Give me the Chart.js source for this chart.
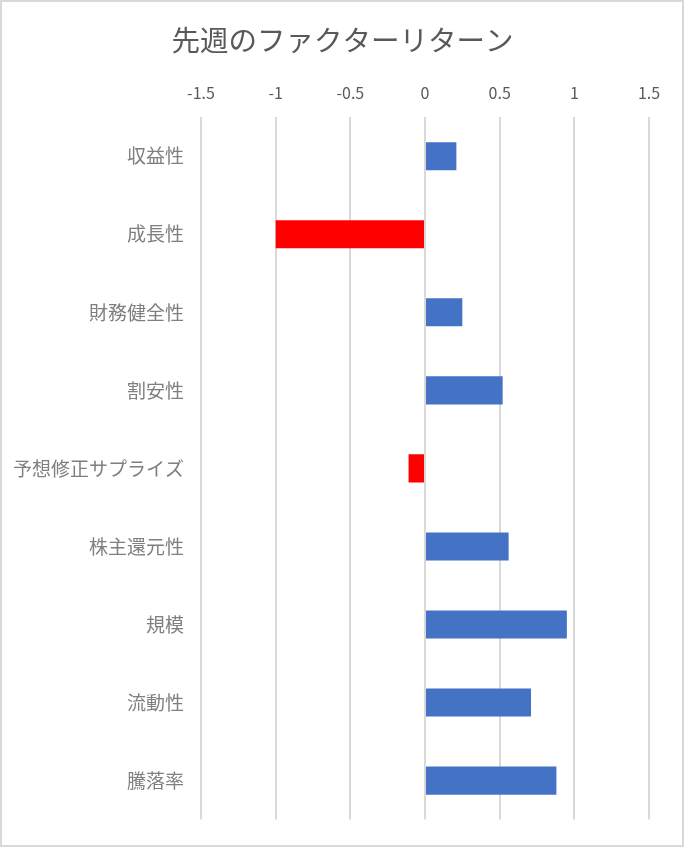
<!DOCTYPE html>
<html lang="ja">

<head>
    <meta charset="UTF-8">
    <title>先週のファクターリターン</title>
    <script src="https://cdn.jsdelivr.net/npm/chart.js"></script>
    <style>
        html, body { margin: 0; padding: 0; background: #fff; }
        #wrap { position: relative; width: 685px; height: 848px; }
    </style>
</head>

<body>
    <div id="wrap">
        <canvas id="factorChart"></canvas>
    </div>

    <script>
        // Factor names (top to bottom)
        const factors = ['収益性', '成長性', '財務健全性', '割安性', '予想修正サプライズ', '株主還元性', '規模', '流動性', '騰落率'];
        // Last week's returns
        const returns = [0.21, -1.0, 0.25, 0.52, -0.11, 0.56, 0.95, 0.71, 0.88];
        // Axis ticks shown on top
        const xTicks = [-1.5, -1, -0.5, 0, 0.5, 1, 1.5];

        const POS_COLOR = '#4472C4';
        const NEG_COLOR = '#FF0000';
        const FONT = '"Noto Sans CJK JP", "Noto Sans", sans-serif';

        // Outer frame of the chart
        const framePlugin = {
            id: 'frame',
            afterDraw(chart) {
                const ctx = chart.ctx;
                ctx.save();
                ctx.strokeStyle = '#d9d9d9';
                ctx.lineWidth = 2;
                ctx.strokeRect(1, 1, chart.width - 3, chart.height - 3);
                ctx.restore();
            }
        };

        const ctx = document.getElementById('factorChart').getContext('2d');

        new Chart(ctx, {
            type: 'bar',
            data: {
                labels: factors,
                datasets: [{
                    data: returns,
                    backgroundColor: returns.map(v => v < 0 ? NEG_COLOR : POS_COLOR),
                    borderWidth: 0,
                    barPercentage: 0.36,
                    categoryPercentage: 1
                }]
            },
            options: {
                indexAxis: 'y',
                responsive: true,
                maintainAspectRatio: false,
                animation: false,
                layout: {
                    padding: { left: 0, right: 0, top: 0, bottom: 25 }
                },
                plugins: {
                    legend: { display: false },
                    tooltip: { enabled: false },
                    title: {
                        display: true,
                        text: '先週のファクターリターン',
                        color: '#595959',
                        font: { family: FONT, size: 28.5, weight: 'normal' },
                        padding: { top: 23, bottom: 9 }
                    }
                },
                scales: {
                    x: {
                        position: 'top',
                        min: -1.5,
                        max: 1.5,
                        afterBuildTicks: scale => {
                            scale.ticks = xTicks.map(v => ({ value: v }));
                        },
                        afterFit: scale => {
                            scale.height = 51;
                        },
                        ticks: {
                            color: '#595959',
                            font: { family: FONT, size: 16 },
                            padding: 15,
                            callback: v => String(v)
                        },
                        grid: {
                            color: '#d9d9d9',
                            lineWidth: 2,
                            drawTicks: false
                        },
                        border: { display: false }
                    },
                    y: {
                        afterFit: scale => {
                            scale.width = 201;
                        },
                        ticks: {
                            color: '#7f7f7f',
                            font: { family: FONT, size: 19 },
                            padding: 17
                        },
                        grid: { display: false, drawTicks: false },
                        border: { display: false }
                    },
                    // empty right-hand spacer so the title stays centred on the whole frame
                    yRight: {
                        type: 'linear',
                        position: 'right',
                        afterFit: scale => {
                            scale.width = 36;
                        },
                        ticks: { display: false },
                        grid: { display: false },
                        border: { display: false }
                    }
                }
            },
            plugins: [framePlugin]
        });
    </script>
</body>

</html>
